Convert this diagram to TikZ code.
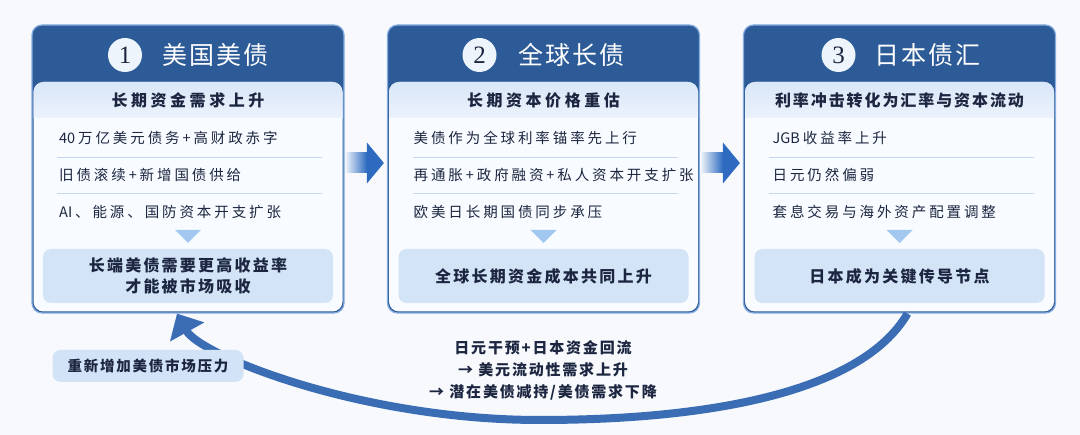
\documentclass[tikz,border=0pt]{standalone}
\usepackage{fontspec}
\setmainfont{Noto Sans CJK SC}
\newfontfamily\numfont{Liberation Serif}
\newcommand\lat[1]{{\addfontfeature{LetterSpace=0}#1}\hspace{2.9pt}}
\usetikzlibrary{arrows.meta,calc}
\definecolor{bgcol}{HTML}{F7F9FD}
\definecolor{hdrcol}{HTML}{2C5B97}
\definecolor{bordercol}{HTML}{86ADE0}
\definecolor{bodycol}{HTML}{F8FBFF}
\definecolor{bandA}{HTML}{D9E7F8}
\definecolor{bandB}{HTML}{EBF2FC}
\definecolor{sepcol}{HTML}{C5D8EF}
\definecolor{tricol}{HTML}{A3C8F0}
\definecolor{botfill}{HTML}{D4E4F7}
\definecolor{txt}{HTML}{1C2640}
\definecolor{circfill}{HTML}{EEF4FC}
\definecolor{curvecol}{HTML}{3B6DB5}
\definecolor{arrdark}{HTML}{2E6BC0}
\definecolor{arrlight}{HTML}{F0F5FC}
\definecolor{lblfill}{HTML}{D3E3F7}
\begin{document}
\begin{tikzpicture}[x=1pt,y=-1pt,
  outerbox/.style={draw=bordercol, line width=1.2pt, rounded corners=10pt, minimum width=312pt, minimum height=288pt, inner sep=0pt},
  numc/.style={circle, fill=circfill, minimum size=34pt, inner sep=0pt, text=txt, font=\numfont\fontsize{25}{25}\selectfont},
  ttl/.style={text=white, inner sep=0pt, font=\fontsize{25}{25}\selectfont\addfontfeature{LetterSpace=8}},
  subt/.style={text=txt, inner sep=0pt, font=\bfseries\fontsize{16}{18}\selectfont\addfontfeature{LetterSpace=#1}},
  itm/.style={text=txt, anchor=west, inner sep=0pt, font=\fontsize{14.5}{17}\selectfont\addfontfeature{LetterSpace=20}},
  botb/.style={fill=botfill, rounded corners=8pt, minimum width=290pt, minimum height=54pt, align=center, text=txt, inner sep=0pt, font=\bfseries\fontsize{16}{21}\selectfont\addfontfeature{LetterSpace=14}},
  tri/.style={fill=tricol},
  sepl/.style={draw=sepcol, line width=0.8pt},
  loopline/.style={draw=curvecol, line width=8pt, -{Triangle[width=38pt,length=21pt]}},
  lbl/.style={fill=lblfill, rounded corners=8pt, minimum width=191pt, minimum height=32pt, inner sep=0pt, text=txt, font=\bfseries\fontsize{14.5}{17}\selectfont\addfontfeature{LetterSpace=12}},
  note/.style={align=center, text=txt, inner sep=0pt, font=\bfseries\fontsize{15}{22}\selectfont\addfontfeature{LetterSpace=12}}
]
\useasboundingbox (0,0) rectangle (1080,435);
\fill[bgcol] (0,0) rectangle (1080,435);

% ---------- panel 1 ----------
\begin{scope}[shift={(32,0)}]
  \fill[hdrcol, rounded corners=10pt] (0,25) rectangle (312,313);
  \fill[bodycol, rounded corners=10pt] (1.5,82) rectangle (310.5,311.5);
  \begin{scope}
    \clip[rounded corners=10pt] (1.5,82) rectangle (310.5,311.5);
    \shade[top color=bandA, bottom color=bandB] (0,82) rectangle (312,118);
  \end{scope}
  \node[outerbox] (b1) at (156,169) {};
  \node[numc] (n1) at (93,55) {1};
  \node[ttl] (t1) at (183,55) {美国美债};
  \node[subt=22] (s1) at (156,100) {长期资金需求上升};
  \node[itm] (i11) at (27,138) {\lat{40}万亿美元债务+高财政赤字};
  \draw[sepl] (25,157) -- (290,157);
  \node[itm] (i12) at (27,175) {旧债滚续+新增国债供给};
  \draw[sepl] (25,193) -- (290,193);
  \node[itm] (i13) at (27,212) {\lat{AI}、能源、国防资本开支扩张};
  \fill[tri] (143,230) -- (169,230) -- (156,243) -- cycle;
  \node[botb] (k1) at (156,276) {长端美债需要更高收益率\\才能被市场吸收};
\end{scope}

% ---------- panel 2 ----------
\begin{scope}[shift={(387.5,0)}]
  \fill[hdrcol, rounded corners=10pt] (0,25) rectangle (312,313);
  \fill[bodycol, rounded corners=10pt] (1.5,82) rectangle (310.5,311.5);
  \begin{scope}
    \clip[rounded corners=10pt] (1.5,82) rectangle (310.5,311.5);
    \shade[top color=bandA, bottom color=bandB] (0,82) rectangle (312,118);
  \end{scope}
  \node[outerbox] (b2) at (156,169) {};
  \node[numc] (n2) at (92,55) {2};
  \node[ttl] (t2) at (184,55) {全球长债};
  \node[subt=22] (s2) at (156,100) {长期资本价格重估};
  \node[itm] (i21) at (26,138) {美债作为全球利率锚率先上行};
  \draw[sepl] (25,157) -- (290,157);
  \node[itm] (i22) at (26,175) {再通胀+政府融资+私人资本开支扩张};
  \draw[sepl] (25,193) -- (290,193);
  \node[itm] (i23) at (26,212) {欧美日长期国债同步承压};
  \fill[tri] (143,230) -- (169,230) -- (156,243) -- cycle;
  \node[botb] (k2) at (156,276) {全球长期资金成本共同上升};
\end{scope}

% ---------- panel 3 ----------
\begin{scope}[shift={(743.5,0)}]
  \fill[hdrcol, rounded corners=10pt] (0,25) rectangle (312,313);
  \fill[bodycol, rounded corners=10pt] (1.5,82) rectangle (310.5,311.5);
  \begin{scope}
    \clip[rounded corners=10pt] (1.5,82) rectangle (310.5,311.5);
    \shade[top color=bandA, bottom color=bandB] (0,82) rectangle (312,118);
  \end{scope}
  \node[outerbox] (b3) at (156,169) {};
  \node[numc] (n3) at (95,55) {3};
  \node[ttl] (t3) at (184,55) {日本债汇};
  \node[subt=12] (s3) at (156,100) {利率冲击转化为汇率与资本流动};
  \node[itm] (i31) at (29,138) {\lat{JGB}收益率上升};
  \draw[sepl] (25,157) -- (290,157);
  \node[itm] (i32) at (29,175) {日元仍然偏弱};
  \draw[sepl] (25,193) -- (290,193);
  \node[itm] (i33) at (29,212) {套息交易与海外资产配置调整};
  \fill[tri] (143,230) -- (169,230) -- (156,243) -- cycle;
  \node[botb] (k3) at (156,276) {日本成为关键传导节点};
\end{scope}

% ---------- arrows between panels ----------
\coordinate (a1s) at ([yshift=6pt]b1.east);
\coordinate (a1e) at ([yshift=6pt]b2.west);
\shade[left color=arrlight, right color=arrdark] ($(a1s)+(0.6,-10)$) rectangle ($(a1e)+(-20,10)$);
\fill[arrdark] ($(a1e)+(-20,-20.5)$) -- ($(a1e)+(-3,0)$) -- ($(a1e)+(-20,20.5)$) -- cycle;

\coordinate (a2s) at ([yshift=6pt]b2.east);
\coordinate (a2e) at ([yshift=6pt]b3.west);
\shade[left color=arrlight, right color=arrdark] ($(a2s)+(0.6,-10)$) rectangle ($(a2e)+(-20,10)$);
\fill[arrdark] ($(a2e)+(-20,-20.5)$) -- ($(a2e)+(-3,0)$) -- ($(a2e)+(-20,20.5)$) -- cycle;

% ---------- feedback loop ----------
\draw[loopline] ([xshift=8pt]b3.south) .. controls (860,395) and (700,420) .. (540,420)
  .. controls (360,420) and (200,355) .. ([xshift=-11pt]b1.south);

\node[lbl] (lb) at (148,366) {重新增加美债市场压力};
\node[note] (nt) at (543,370) {日元干预+日本资金回流\\→ 美元流动性需求上升\\→ 潜在美债减持/美债需求下降};
\end{tikzpicture}
\end{document}
